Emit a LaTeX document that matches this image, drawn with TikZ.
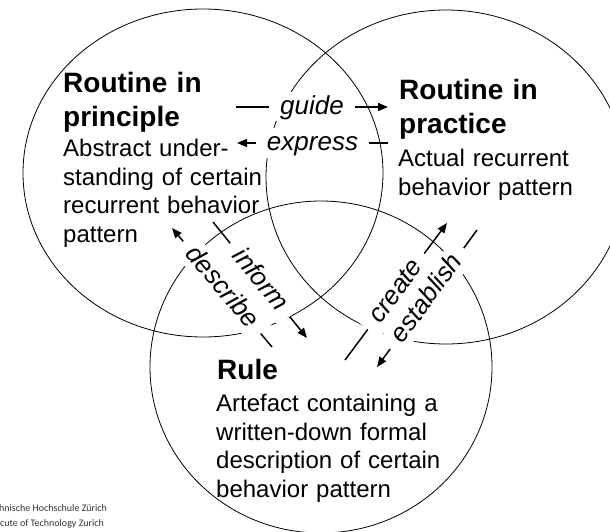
\documentclass[tikz,border=0pt]{standalone}
\usepackage{fontspec}
\setmainfont{Liberation Sans}
\newfontfamily\logofont{Carlito}
\usetikzlibrary{arrows.meta}

\tikzset{
    heading/.style={anchor=base west, inner sep=0pt, text width=240pt, align=left,
        font=\fontsize{28}{34}\selectfont\bfseries},
    desc/.style={anchor=base west, inner sep=0pt, text width=240pt, align=left,
        font=\fontsize{24}{28.5}\selectfont},
    verbal/.style={fill=white, sloped, inner xsep=11pt, inner ysep=2pt,
        text height=20pt, text depth=5pt, font=\fontsize{26}{30}\selectfont\itshape},
    link/.style={line width=1.5pt, -{Triangle[length=10pt,width=8pt]}},
    logo/.style={anchor=base west, inner sep=0pt, text=black!80,
        font=\logofont\fontsize{10}{12}\selectfont},
}

\begin{document}
\begin{tikzpicture}[x=1pt, y=-1pt]
    \useasboundingbox (0,0) rectangle (610,532);

    \draw[line width=0.8pt] (203,173) ellipse [x radius=180pt, y radius=164pt];
    \draw[line width=0.8pt] (446,177) ellipse [x radius=180pt, y radius=167pt];
    \draw[line width=0.8pt] (321,367) ellipse [x radius=171pt, y radius=166pt];

    \node[heading] (principleT) at (63,92.7) {Routine in\\principle};
    \node[desc] (principleD) at (63,156.7) {Abstract under-\\standing of certain\\recurrent behavior\\pattern};
    \node[heading] (practiceT) at (399,100) {Routine in\\practice};
    \node[desc] (practiceD) at (398,166.5) {Actual recurrent\\behavior pattern};
    \node[heading] (ruleT) at (217,379) {Rule};
    \node[desc] (ruleD) at (216,411.5) {Artefact containing a\\written-down formal\\description of certain\\behavior pattern};

    \coordinate (guideA) at (236,107);
    \coordinate (guideB) at (388,107);
    \coordinate (expressA) at (388,143);
    \coordinate (expressB) at (237,143);
    \coordinate (informA) at (213,222);
    \coordinate (informB) at (307,338);
    \coordinate (describeA) at (272,347);
    \coordinate (describeB) at (172,228);
    \coordinate (createA) at (345,360);
    \coordinate (createB) at (447,223);
    \coordinate (establishA) at (477,230);
    \coordinate (establishB) at (377,367);

    \draw[link] (guideA) -- node[verbal] (guide) {guide} (guideB);
    \draw[link] (expressA) -- node[verbal] (express) {express} (expressB);
    \draw[link] (informA) -- node[verbal] (inform) {inform} (informB);
    \draw[link] (describeA) -- node[verbal] (describe) {describe} (describeB);
    \draw[link] (createA) -- node[verbal] (create) {create} (createB);
    \draw[link] (establishA) -- node[verbal] (establish) {establish} (establishB);

    \node[logo] (eth1) at (-1,511) {hnische Hochschule Zürich};
    \node[logo] (eth2) at (0,526) {cute of Technology Zurich};
\end{tikzpicture}
\end{document}
